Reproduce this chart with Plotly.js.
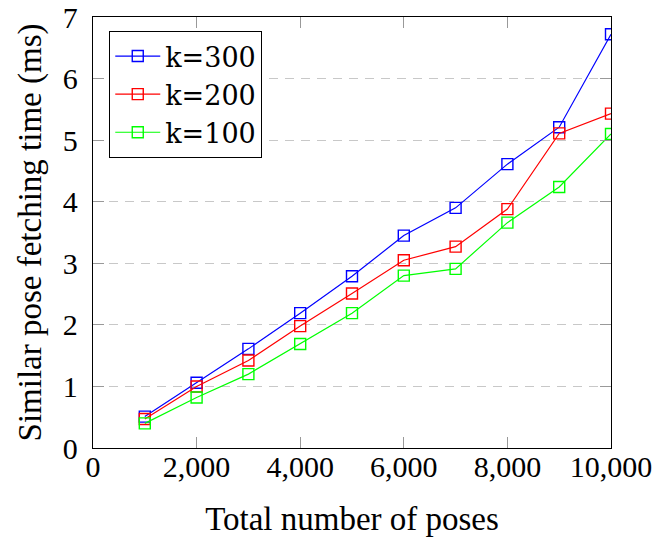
<!DOCTYPE html>
<html>
<head>
<meta charset="utf-8">
<script src="https://cdn.plot.ly/plotly-3.0.1.min.js"></script>
<style>html,body{margin:0;padding:0;background:#fff;}#chart{width:657px;height:542px;}</style>
</head>
<body>
<div id="chart"></div>
<script>
const poses = [1000, 2000, 3000, 4000, 5000, 6000, 7000, 8000, 9000, 10000];
const k300 = [0.51, 1.06, 1.61, 2.19, 2.79, 3.45, 3.90, 4.61, 5.21, 6.72];
const k200 = [0.47, 1.00, 1.42, 1.98, 2.51, 3.05, 3.27, 3.88, 5.11, 5.43];
const k100 = [0.40, 0.82, 1.20, 1.69, 2.19, 2.80, 2.91, 3.66, 4.24, 5.10];
const seriesNames = ['k=300', 'k=200', 'k=100'];
const seriesColors = ['#0000ff', '#ff0000', '#00ff00'];
const xTickVals = [0, 2000, 4000, 6000, 8000, 10000];
const xTickText = ['0', '2,000', '4,000', '6,000', '8,000', '10,000'];
const yTickVals = [0, 1, 2, 3, 4, 5, 6, 7];

const FONT = "'Liberation Serif', 'DejaVu Serif', serif";
const LEGFONT = "'DejaVu Serif', 'Liberation Serif', serif";
const values = [k300, k200, k100];
const traces = values.map((v, i) => ({
  x: poses, y: v, name: seriesNames[i], type: 'scatter', mode: 'lines+markers',
  line: {color: seriesColors[i], width: 1.2},
  marker: {symbol: 'square-open', size: 11, color: seriesColors[i], line: {width: 1.4, color: seriesColors[i]}}
}));

const layout = {
  width: 657, height: 542,
  margin: {l: 93, r: 46, t: 17, b: 94},
  paper_bgcolor: '#fff', plot_bgcolor: '#fff',
  font: {family: FONT, size: 30, color: '#000'},
  showlegend: true,
  legend: {x: 0.031, y: 0.968, xanchor: 'left', yanchor: 'top', bgcolor: '#fff',
    bordercolor: '#000', borderwidth: 1.2, itemwidth: 45,
    font: {family: LEGFONT, size: 27, color: '#000'}},
  xaxis: {
    range: [0, 10000], tickvals: xTickVals, ticktext: xTickText,
    ticks: 'inside', ticklen: 11, tickwidth: 1, tickcolor: '#999',
    showline: true, linecolor: '#000', linewidth: 1.3, mirror: 'ticks',
    showgrid: false, zeroline: false, ticklabelstandoff: -8,
    tickfont: {family: FONT, size: 30, color: '#000'},
    title: {text: 'Total number of poses', font: {family: FONT, size: 33, color: '#000'}, standoff: 24}
  },
  yaxis: {
    range: [0, 7], tickvals: yTickVals,
    ticks: 'inside', ticklen: 11, tickwidth: 1, tickcolor: '#999',
    showline: true, linecolor: '#000', linewidth: 1.3, mirror: 'ticks',
    showgrid: true, gridcolor: '#c8c8c8', gridwidth: 1, griddash: '9px,7px',
    zeroline: false, ticklabelstandoff: 8,
    tickfont: {family: FONT, size: 30, color: '#000'},
    title: {text: 'Similar pose fetching time (ms)', font: {family: FONT, size: 33, color: '#000'}, standoff: 11}
  }
};

Plotly.newPlot('chart', traces, layout, {displayModeBar: false, staticPlot: true});
</script>
</body>
</html>
